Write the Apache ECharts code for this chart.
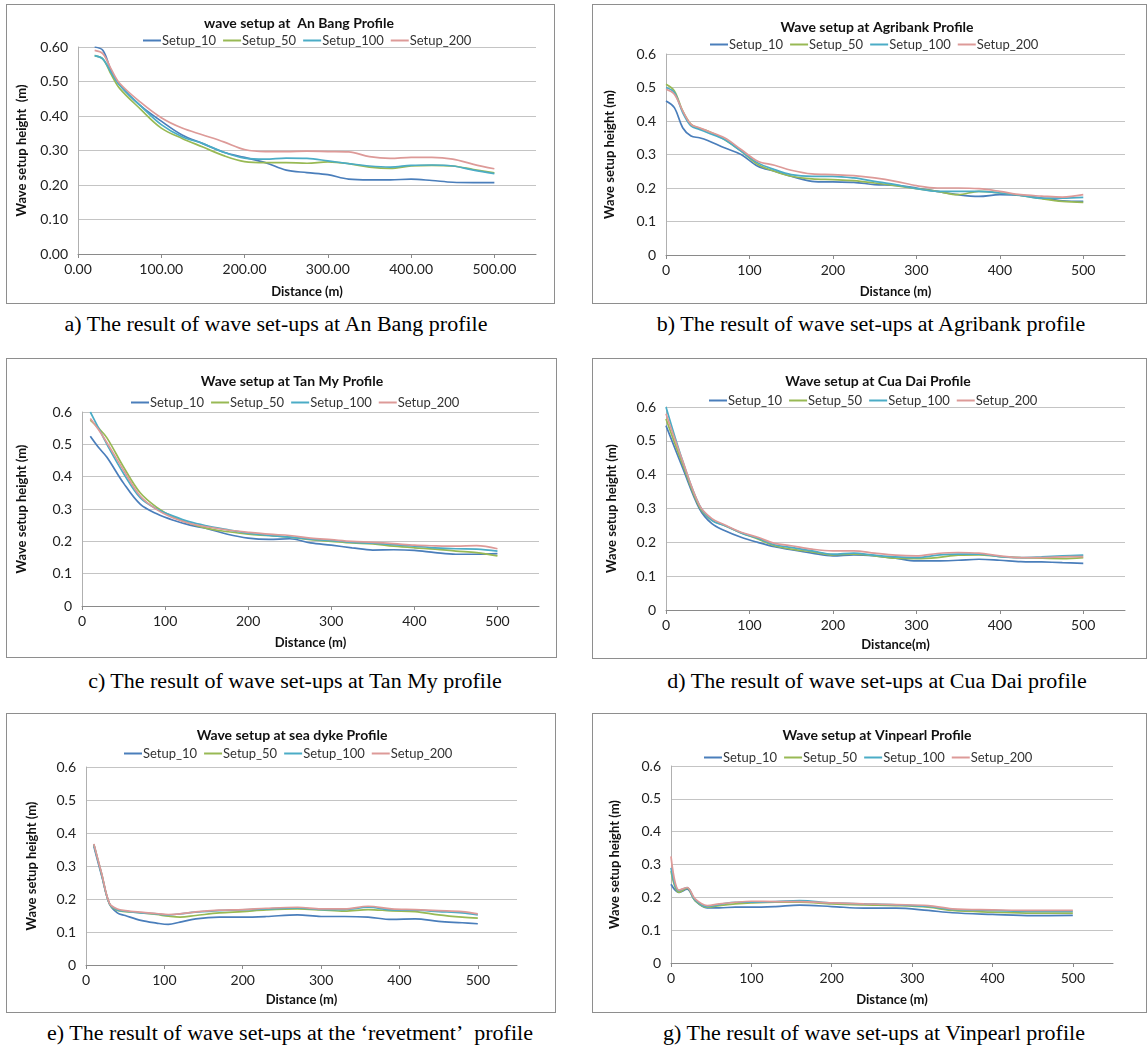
<!DOCTYPE html>
<html>
<head>
<meta charset="utf-8">
<script src="https://cdn.jsdelivr.net/npm/echarts@6.0.0/dist/echarts.min.js"></script>
<style>
  body { margin: 0; background: #fff; width: 1148px; height: 1046px; position: relative; overflow: hidden; }
  .panel { position: absolute; border: 1px solid #8e8e8e; box-sizing: border-box; }
  .cap { position: absolute; font-family: 'Liberation Serif', 'Times New Roman', serif; font-size: 20px;
         color: #000; white-space: nowrap; transform: translateX(-50%) scaleX(1.1); line-height: 22px; }
</style>
</head>
<body>
<div class="panel" id="pa" style="left:6px;top:4px;width:549px;height:300px"></div>
<div class="panel" id="pb" style="left:592px;top:4px;width:555px;height:300px"></div>
<div class="panel" id="pc" style="left:6px;top:358px;width:551px;height:300px"></div>
<div class="panel" id="pd" style="left:592px;top:358px;width:555px;height:301px"></div>
<div class="panel" id="pe" style="left:6px;top:713px;width:550px;height:300px"></div>
<div class="panel" id="pg" style="left:592px;top:713px;width:555px;height:300px"></div>

<div class="cap" style="left:276px;top:313px">a) The result of wave set-ups at An Bang profile</div>
<div class="cap" style="left:871px;top:313px">b) The result of wave set-ups at Agribank profile</div>
<div class="cap" style="left:295px;top:670px">c) The result of wave set-ups at Tan My profile</div>
<div class="cap" style="left:877px;top:670px">d) The result of wave set-ups at Cua Dai profile</div>
<div class="cap" style="left:290px;top:1022px">e) The result of wave set-ups at the ‘revetment’&nbsp; profile</div>
<div class="cap" style="left:874px;top:1022px">g) The result of wave set-ups at Vinpearl profile</div>

<script>
const seriesNames = ['Setup_10', 'Setup_50', 'Setup_100', 'Setup_200']
const lineColors = ['#4a7ebb', '#98b954', '#4bacc6', '#dd9a98']
const xTicks = [0, 100, 200, 300, 400, 500]

// a) An Bang
const anBangX = [20, 30, 40, 50, 75, 100, 125, 150, 175, 200, 225, 250, 275, 300, 325, 350, 375, 400, 425, 450, 475, 500]
const anBang10 = [0.60, 0.59, 0.53, 0.49, 0.43, 0.385, 0.345, 0.32, 0.295, 0.28, 0.265, 0.243, 0.236, 0.23, 0.217, 0.215, 0.215, 0.217, 0.213, 0.208, 0.207, 0.207]
const anBang50 = [0.575, 0.565, 0.52, 0.48, 0.42, 0.365, 0.335, 0.31, 0.285, 0.268, 0.265, 0.265, 0.263, 0.267, 0.262, 0.252, 0.248, 0.255, 0.257, 0.255, 0.245, 0.235]
const anBang100 = [0.575, 0.565, 0.525, 0.49, 0.43, 0.375, 0.34, 0.32, 0.295, 0.278, 0.275, 0.278, 0.277, 0.27, 0.262, 0.255, 0.252, 0.257, 0.258, 0.255, 0.243, 0.233]
const anBang200 = [0.59, 0.58, 0.535, 0.495, 0.44, 0.395, 0.365, 0.345, 0.325, 0.303, 0.297, 0.297, 0.298, 0.297, 0.296, 0.282, 0.277, 0.28, 0.28, 0.275, 0.26, 0.247]

// b) Agribank
const agriX = [0, 10, 20, 30, 40, 50, 70, 90, 110, 130, 150, 175, 200, 225, 250, 275, 300, 325, 350, 375, 400, 425, 450, 475, 500]
const agri10 = [0.46, 0.44, 0.38, 0.355, 0.35, 0.342, 0.32, 0.30, 0.265, 0.25, 0.235, 0.22, 0.218, 0.217, 0.21, 0.208, 0.2, 0.19, 0.18, 0.175, 0.18, 0.178, 0.17, 0.162, 0.16]
const agri50 = [0.51, 0.49, 0.43, 0.39, 0.378, 0.37, 0.345, 0.31, 0.27, 0.25, 0.235, 0.227, 0.225, 0.222, 0.215, 0.207, 0.198, 0.19, 0.18, 0.19, 0.185, 0.178, 0.168, 0.16, 0.157]
const agri100 = [0.50, 0.485, 0.425, 0.385, 0.375, 0.365, 0.345, 0.31, 0.275, 0.255, 0.24, 0.235, 0.235, 0.23, 0.22, 0.21, 0.198, 0.19, 0.19, 0.19, 0.185, 0.178, 0.17, 0.17, 0.172]
const agri200 = [0.495, 0.48, 0.43, 0.39, 0.38, 0.37, 0.35, 0.315, 0.28, 0.268, 0.253, 0.242, 0.24, 0.237, 0.23, 0.22, 0.207, 0.2, 0.2, 0.198, 0.19, 0.18, 0.176, 0.173, 0.18]

// c) Tan My
const tanMyX = [10, 20, 30, 50, 70, 90, 110, 130, 150, 175, 200, 225, 250, 275, 300, 325, 350, 375, 400, 425, 450, 475, 500]
const tanMy10 = [0.525, 0.49, 0.46, 0.38, 0.315, 0.285, 0.265, 0.25, 0.24, 0.222, 0.21, 0.206, 0.208, 0.195, 0.188, 0.18, 0.173, 0.174, 0.172, 0.165, 0.16, 0.16, 0.162]
const tanMy50 = [0.575, 0.55, 0.52, 0.43, 0.35, 0.305, 0.275, 0.255, 0.24, 0.23, 0.222, 0.218, 0.213, 0.205, 0.2, 0.195, 0.192, 0.185, 0.18, 0.176, 0.17, 0.165, 0.155]
const tanMy100 = [0.60, 0.55, 0.50, 0.41, 0.335, 0.30, 0.278, 0.26, 0.248, 0.236, 0.225, 0.218, 0.213, 0.207, 0.202, 0.197, 0.194, 0.19, 0.185, 0.18, 0.177, 0.176, 0.17]
const tanMy200 = [0.58, 0.545, 0.505, 0.42, 0.34, 0.298, 0.272, 0.255, 0.245, 0.235, 0.228, 0.222, 0.218, 0.21, 0.205, 0.2, 0.197, 0.193, 0.188, 0.186, 0.185, 0.187, 0.177]

// d) Cua Dai
const cuaDaiX = [0, 20, 40, 55, 70, 90, 110, 130, 150, 175, 200, 225, 250, 275, 300, 325, 350, 375, 400, 425, 450, 475, 500]
const cuaDai10 = [0.545, 0.42, 0.30, 0.255, 0.235, 0.215, 0.2, 0.187, 0.178, 0.168, 0.16, 0.163, 0.16, 0.153, 0.145, 0.145, 0.147, 0.15, 0.147, 0.143, 0.142, 0.14, 0.138]
const cuaDai50 = [0.565, 0.43, 0.305, 0.265, 0.25, 0.228, 0.21, 0.19, 0.18, 0.172, 0.163, 0.165, 0.16, 0.153, 0.152, 0.155, 0.162, 0.163, 0.158, 0.155, 0.153, 0.152, 0.155]
const cuaDai100 = [0.60, 0.44, 0.31, 0.265, 0.25, 0.228, 0.212, 0.193, 0.185, 0.175, 0.165, 0.168, 0.162, 0.157, 0.155, 0.162, 0.165, 0.165, 0.158, 0.155, 0.157, 0.16, 0.162]
const cuaDai200 = [0.58, 0.44, 0.31, 0.27, 0.252, 0.23, 0.215, 0.197, 0.19, 0.18, 0.175, 0.175, 0.168, 0.162, 0.16, 0.167, 0.17, 0.168, 0.16, 0.155, 0.155, 0.157, 0.158]

// e) sea dyke (revetment)
const dykeX = [10, 20, 30, 40, 50, 70, 90, 105, 120, 140, 170, 200, 230, 270, 300, 330, 360, 390, 420, 450, 480, 500]
const dyke10 = [0.36, 0.27, 0.185, 0.158, 0.15, 0.135, 0.127, 0.123, 0.13, 0.14, 0.145, 0.145, 0.147, 0.152, 0.147, 0.147, 0.145, 0.138, 0.14, 0.132, 0.128, 0.125]
const dyke50 = [0.365, 0.275, 0.185, 0.165, 0.162, 0.158, 0.153, 0.148, 0.145, 0.15, 0.158, 0.162, 0.167, 0.17, 0.167, 0.163, 0.168, 0.164, 0.162, 0.152, 0.145, 0.142]
const dyke100 = [0.365, 0.275, 0.185, 0.167, 0.163, 0.158, 0.155, 0.152, 0.155, 0.16, 0.165, 0.167, 0.17, 0.173, 0.168, 0.168, 0.175, 0.167, 0.166, 0.162, 0.158, 0.152]
const dyke200 = [0.367, 0.277, 0.187, 0.17, 0.165, 0.16, 0.156, 0.153, 0.155, 0.161, 0.166, 0.168, 0.172, 0.175, 0.17, 0.17, 0.178, 0.17, 0.168, 0.165, 0.162, 0.155]

// g) Vinpearl
const vinX = [0, 10, 20, 30, 45, 60, 80, 100, 130, 160, 200, 240, 280, 320, 350, 400, 450, 500]
const vin10 = [0.24, 0.215, 0.225, 0.19, 0.168, 0.168, 0.17, 0.17, 0.172, 0.176, 0.172, 0.167, 0.167, 0.16, 0.153, 0.148, 0.144, 0.145]
const vin50 = [0.28, 0.215, 0.228, 0.19, 0.17, 0.175, 0.18, 0.183, 0.185, 0.185, 0.18, 0.177, 0.175, 0.17, 0.16, 0.155, 0.152, 0.152]
const vin100 = [0.29, 0.22, 0.23, 0.192, 0.172, 0.178, 0.185, 0.185, 0.187, 0.19, 0.183, 0.18, 0.177, 0.172, 0.163, 0.16, 0.157, 0.157]
const vin200 = [0.325, 0.222, 0.23, 0.195, 0.175, 0.18, 0.185, 0.188, 0.187, 0.187, 0.183, 0.18, 0.178, 0.175, 0.165, 0.162, 0.16, 0.16]

const font = 'Lato, "Open Sans", sans-serif'

function drawPanel(id, p) {
    const chart = echarts.init(document.getElementById(id))
    const ys = [p.s10, p.s50, p.s100, p.s200]
    chart.setOption({
        animation: false,
        title: {
            text: p.title, left: p.titleX, textAlign: 'center', top: p.titleTop,
            textStyle: { fontFamily: font, fontWeight: 'bold', fontSize: 14, color: '#111' }
        },
        legend: {
            data: seriesNames, left: p.legendX, top: p.legendTop,
            icon: 'rect', itemWidth: 18, itemHeight: 2, itemGap: 7,
            textStyle: { fontFamily: font, fontSize: 13, color: '#333', padding: [0, 0, 0, -4] }
        },
        grid: p.grid,
        xAxis: {
            type: 'value', min: 0, max: 550, interval: 100,
            name: p.xName, nameLocation: 'middle', nameGap: p.xGap,
            nameTextStyle: { fontFamily: font, fontWeight: 'bold', fontSize: 13, color: '#111' },
            axisLine: { lineStyle: { color: '#8a8a8a' } },
            axisTick: { show: true, length: 4, customValues: xTicks, lineStyle: { color: '#8a8a8a' } },
            axisLabel: {
                customValues: xTicks, fontFamily: font, fontSize: 14, color: '#222', margin: 8,
                formatter: v => p.xDec ? v.toFixed(p.xDec) : String(v)
            },
            splitLine: { show: false }
        },
        yAxis: {
            type: 'value', min: 0, max: 0.6, interval: 0.1,
            name: p.yName, nameLocation: 'middle', nameGap: p.yGap,
            nameTextStyle: { fontFamily: font, fontWeight: 'bold', fontSize: 13, color: '#111' },
            axisLine: { show: true, lineStyle: { color: '#b0b0b0' } },
            axisTick: { show: false },
            axisLabel: {
                fontFamily: font, fontSize: 14, color: '#222', margin: 10,
                formatter: v => (p.yDec === 1 && Math.abs(v) < 1e-9) ? '0' : v.toFixed(p.yDec)
            },
            splitLine: { lineStyle: { color: '#c4c4c4' } }
        },
        series: ys.map((y, i) => ({
            name: seriesNames[i],
            type: 'line',
            smooth: 0.35,
            symbol: 'none',
            lineStyle: { width: 1.7, color: lineColors[i] },
            itemStyle: { color: lineColors[i] },
            data: p.x.map((v, j) => [v, y[j]])
        }))
    })
}

drawPanel('pa', {
    title: 'wave setup at  An Bang Profile', titleX: 287, titleTop: 6, legendX: 131, legendTop: 24,
    grid: { left: 71, right: 18, top: 42, bottom: 49 },
    xName: 'Distance (m)', xGap: 31, yName: 'Wave setup height  (m)', yGap: 50, xDec: 2, yDec: 2,
    x: anBangX, s10: anBang10, s50: anBang50, s100: anBang100, s200: anBang200
})
drawPanel('pb', {
    title: 'Wave setup at Agribank Profile', titleX: 279, titleTop: 10, legendX: 112, legendTop: 28,
    grid: { left: 73, right: 21, top: 49, bottom: 47 },
    xName: 'Distance (m)', xGap: 30, yName: 'Wave setup height (m)', yGap: 50, xDec: 0, yDec: 1,
    x: agriX, s10: agri10, s50: agri50, s100: agri100, s200: agri200
})
drawPanel('pc', {
    title: 'Wave setup at Tan My Profile', titleX: 280, titleTop: 10, legendX: 119, legendTop: 32,
    grid: { left: 74, right: 17, top: 53, bottom: 51 },
    xName: 'Distance (m)', xGap: 30, yName: 'Wave setup height (m)', yGap: 54, xDec: 0, yDec: 1,
    x: tanMyX, s10: tanMy10, s50: tanMy50, s100: tanMy100, s200: tanMy200
})
drawPanel('pd', {
    title: 'Wave setup at Cua Dai Profile', titleX: 280, titleTop: 10, legendX: 111, legendTop: 30,
    grid: { left: 73, right: 21, top: 48, bottom: 48 },
    xName: 'Distance(m)', xGap: 28, yName: 'Wave setup height (m)', yGap: 48, xDec: 0, yDec: 1,
    x: cuaDaiX, s10: cuaDai10, s50: cuaDai50, s100: cuaDai100, s200: cuaDai200
})
drawPanel('pe', {
    title: 'Wave setup at sea dyke Profile', titleX: 280, titleTop: 9, legendX: 112, legendTop: 28,
    grid: { left: 79, right: 38, top: 53, bottom: 47 },
    xName: 'Distance (m)', xGap: 28, yName: 'Wave setup height (m)', yGap: 48, xDec: 0, yDec: 1,
    x: dykeX, s10: dyke10, s50: dyke50, s100: dyke100, s200: dyke200
})
drawPanel('pg', {
    title: 'Wave setup at Vinpearl Profile', titleX: 279, titleTop: 9, legendX: 106, legendTop: 32,
    grid: { left: 78, right: 33, top: 52, bottom: 49 },
    xName: 'Distance (m)', xGap: 30, yName: 'Wave setup height (m)', yGap: 50, xDec: 0, yDec: 1,
    x: vinX, s10: vin10, s50: vin50, s100: vin100, s200: vin200
})
</script>
</body>
</html>
